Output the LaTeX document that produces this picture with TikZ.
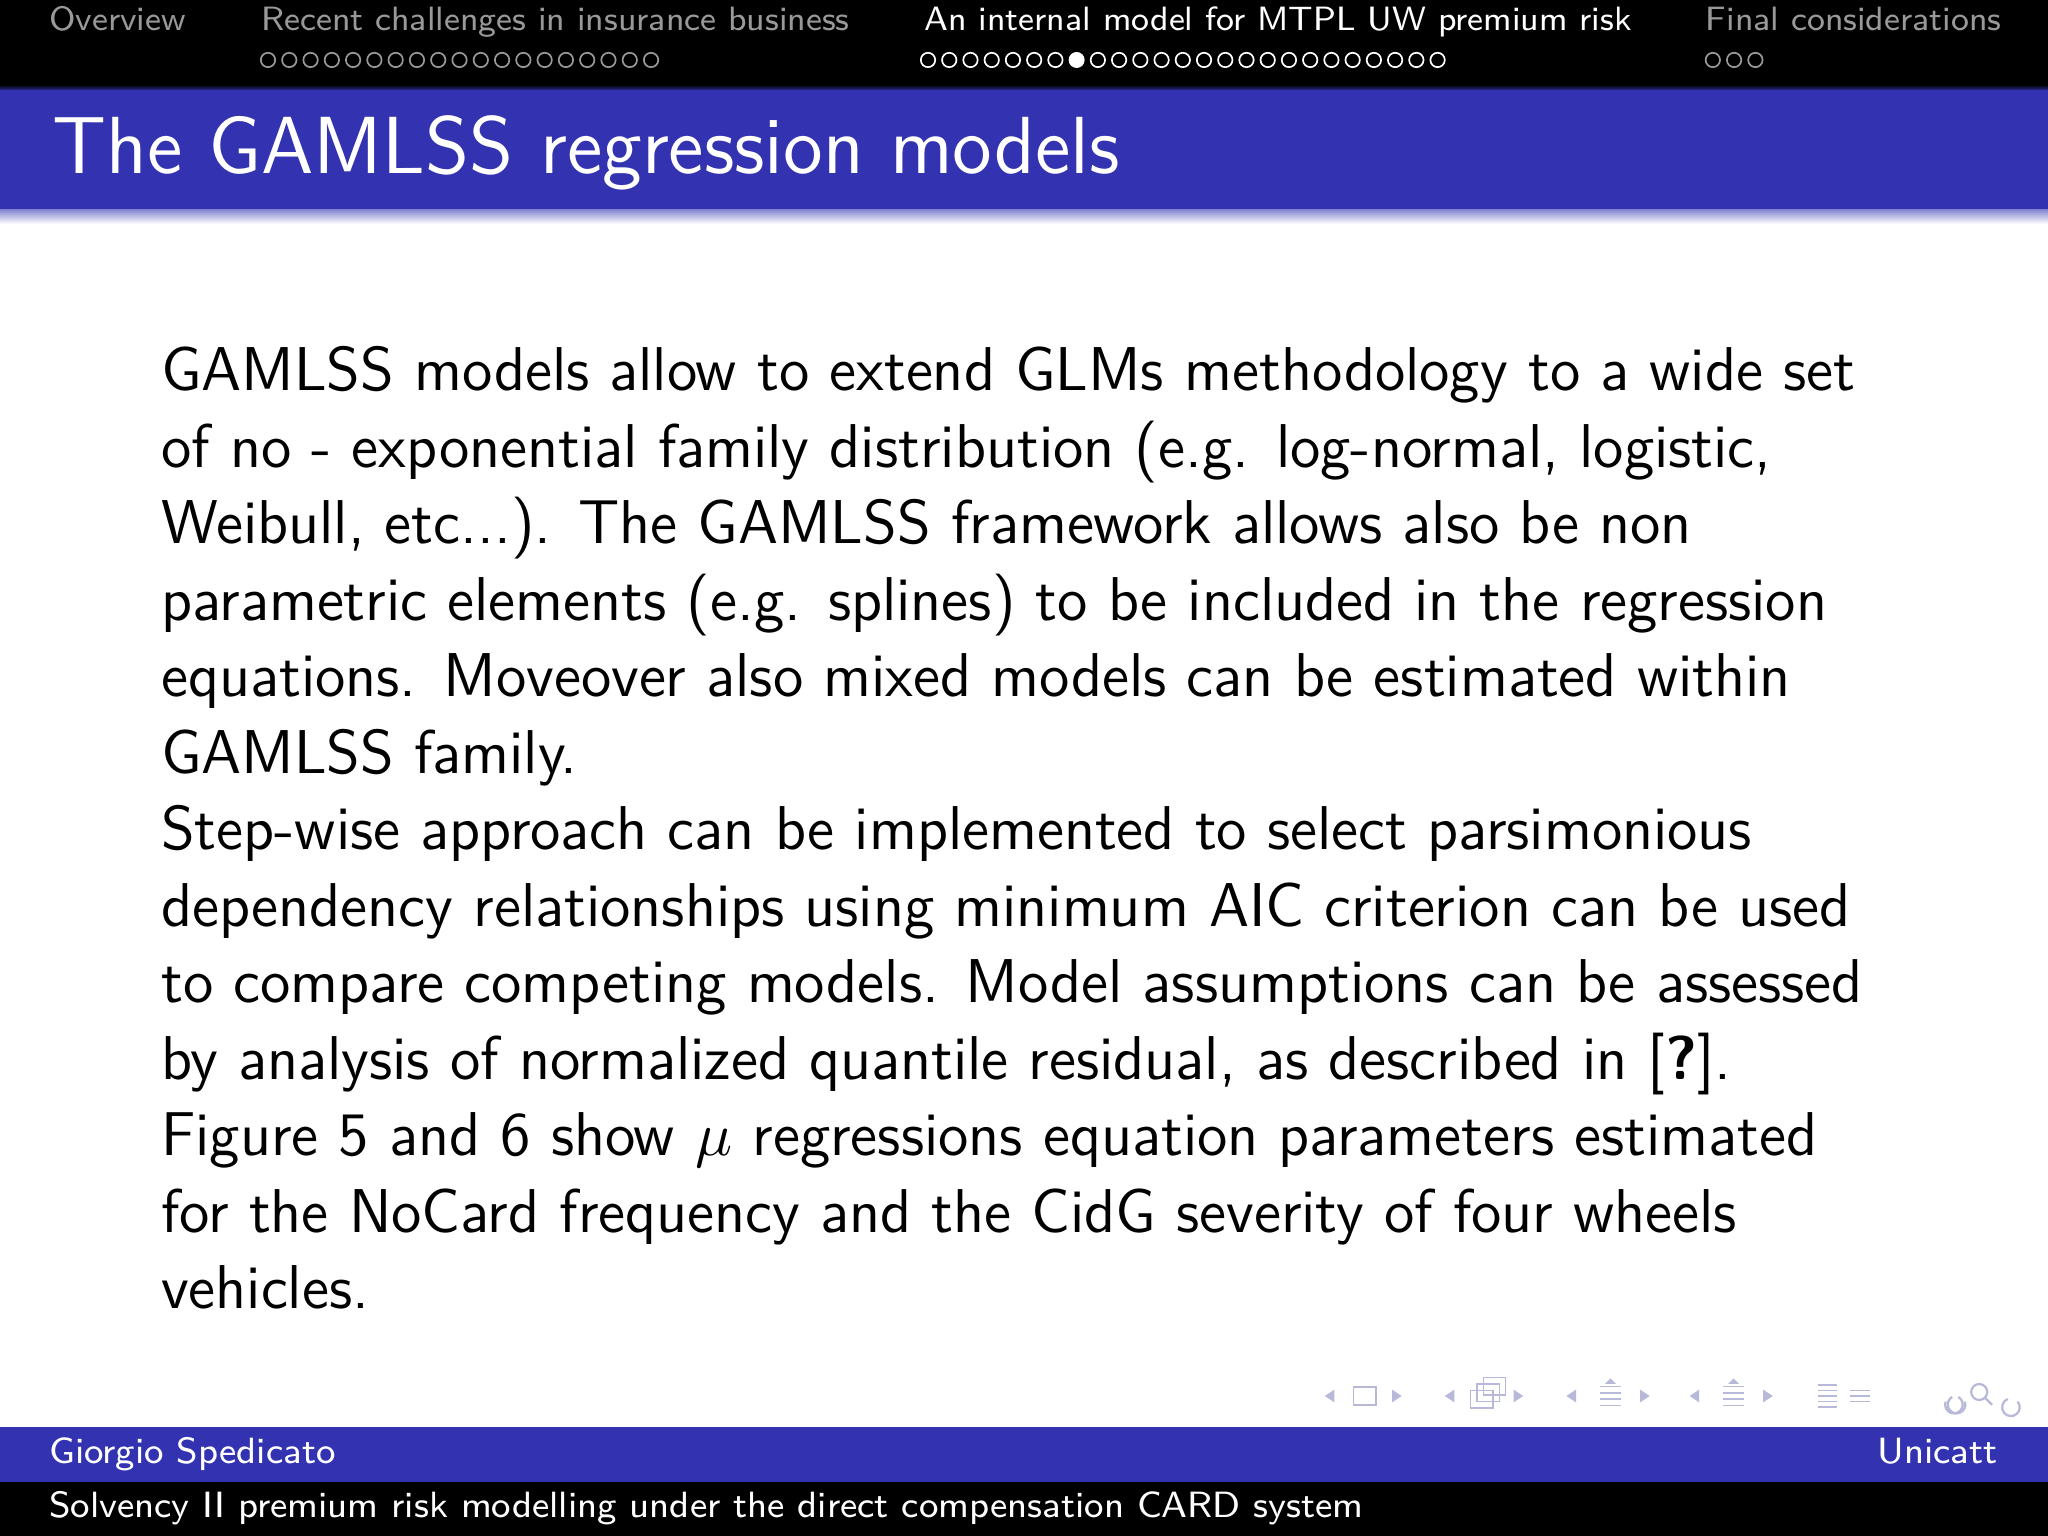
\documentclass[tikz,border=0pt]{standalone}
\usetikzlibrary{positioning}
\definecolor{sblue}{rgb}{0.2,0.2,0.7}
\definecolor{navg}{rgb}{0.72,0.72,0.85}
\tikzset{hd/.style={inner sep=0pt,anchor=base west,font=\sffamily\fontsize{6}{7}\selectfont},
 nav/.style={draw=navg,line width=0.25pt},
 navf/.style={fill=navg}}
\begin{document}
\begin{tikzpicture}[x=1mm,y=-1mm]
\useasboundingbox (0,0) rectangle (128,96);
% headline
\fill[black] (0,0) rectangle (128,5.3);
\shade[top color=black,bottom color=sblue] (0,5.3) rectangle (128,5.7);
\fill[sblue] (0,5.6) rectangle (128,13.1);
\shade[top color=sblue!60,bottom color=white] (0,13.1) rectangle (128,14.0);
\node[hd,text=gray!80] (s1) at (3.0,1.9) {Overview};
\node[hd,text=gray!80] (s2) at (16.25,1.9) {Recent challenges in insurance business};
\node[hd,text=white] (s3) at (57.7,1.9) {An internal model for MTPL UW premium risk};
\node[hd,text=gray!80] (s4) at (106.55,1.9) {Final considerations};
\foreach \i in {0,...,18} \draw[gray!80,line width=0.3pt] (16.75+\i*1.33,3.75) circle (0.45);
\foreach \i in {0,...,24} {\ifnum\i=7 \fill[white] (58.0+\i*1.327,3.75) circle (0.5);
  \else \draw[white,line width=0.3pt] (58.0+\i*1.327,3.75) circle (0.45);\fi}
\foreach \i in {0,...,2} \draw[gray!80,line width=0.3pt] (107.05+\i*1.33,3.75) circle (0.45);
% title
\node[inner sep=0pt,anchor=base west,text=white,font=\sffamily\Large] (title) at (3.2,10.85) {The GAMLSS regression models};
% body
\node[inner sep=0pt,anchor=north west,align=left,font=\sffamily\fontsize{11}{13.6}\selectfont] (body) at (10.0,21.6) {%
GAMLSS models allow to extend GLMs methodology to a wide set\\
of no - exponential family distribution (e.g. log-normal, logistic,\\
Weibull, etc...). The GAMLSS framework allows also be non\\
parametric elements (e.g. splines) to be included in the regression\\
equations. Moveover also mixed models can be estimated within\\
GAMLSS family.\\
Step-wise approach can be implemented to select parsimonious\\
dependency relationships using minimum AIC criterion can be used\\
to compare competing models. Model assumptions can be assessed\\
by analysis of normalized quantile residual, as described in [\textbf{?}].\\
Figure 5 and 6 show $\mu$ regressions equation parameters estimated\\
for the NoCard frequency and the CidG severity of four wheels\\
vehicles.};
% navigation symbols
\begin{scope}[yshift=0mm]
\def\yy{87.25}
\foreach \x in {82.8,90.3,97.9,105.6} \fill[navg] (\x,\yy) -- ++(0.6,-0.4) -- ++(0,0.8) -- cycle;
\foreach \x in {87.6,95.2,103.1,110.8} \fill[navg] (\x,\yy) -- ++(-0.6,-0.4) -- ++(0,0.8) -- cycle;
\draw[nav] (84.6,86.7) rectangle (86.0,87.8);
\draw[nav] (91.9,86.9) rectangle (93.3,88.0);
\draw[nav] (92.3,86.5) rectangle (93.7,87.6);
\draw[nav] (92.7,86.1) rectangle (94.1,87.2);
\foreach \x in {100.0,107.7} {\foreach \d in {-0.6,-0.2,0.2,0.6} \draw[nav] (\x,\yy+\d) -- ++(1.3,0);
  \fill[navg] (\x+0.65,\yy-1.1) -- ++(-0.35,0.35) -- ++(0.7,0) -- cycle;}
\foreach \d in {-0.7,-0.35,0,0.35,0.7} \draw[nav] (113.6,\yy+\d) -- ++(1.2,0);
\foreach \d in {-0.35,0,0.35} \draw[nav] (115.6,\yy+\d) -- ++(1.3,0);
\draw[nav,line width=0.4pt] (121.6,87.6) arc (200:-60:0.55);
\draw[nav,line width=0.4pt] (122.8,87.6) arc (-20:240:0.55);
\draw[nav,line width=0.4pt] (123.7,87.0) circle (0.5); \draw[nav,line width=0.4pt] (124.05,87.35) -- (124.5,87.8);
\draw[nav,line width=0.4pt] (126.1,87.6) arc (-40:250:0.55);
\end{scope}
% footline
\fill[sblue] (0,89.2) rectangle (128,92.6);
\fill[black] (0,92.6) rectangle (128,96);
\node[hd,text=white,font=\sffamily\fontsize{6.5}{7}\selectfont] (author) at (3.0,91.45) {Giorgio Spedicato};
\node[inner sep=0pt,anchor=base east,text=white,font=\sffamily\fontsize{6.5}{7}\selectfont] (inst) at (124.9,91.45) {Unicatt};
\node[hd,text=white,font=\sffamily\fontsize{6.5}{7}\selectfont] (ftitle) at (3.0,94.85) {Solvency II premium risk modelling under the direct compensation CARD system};
\end{tikzpicture}
\end{document}
